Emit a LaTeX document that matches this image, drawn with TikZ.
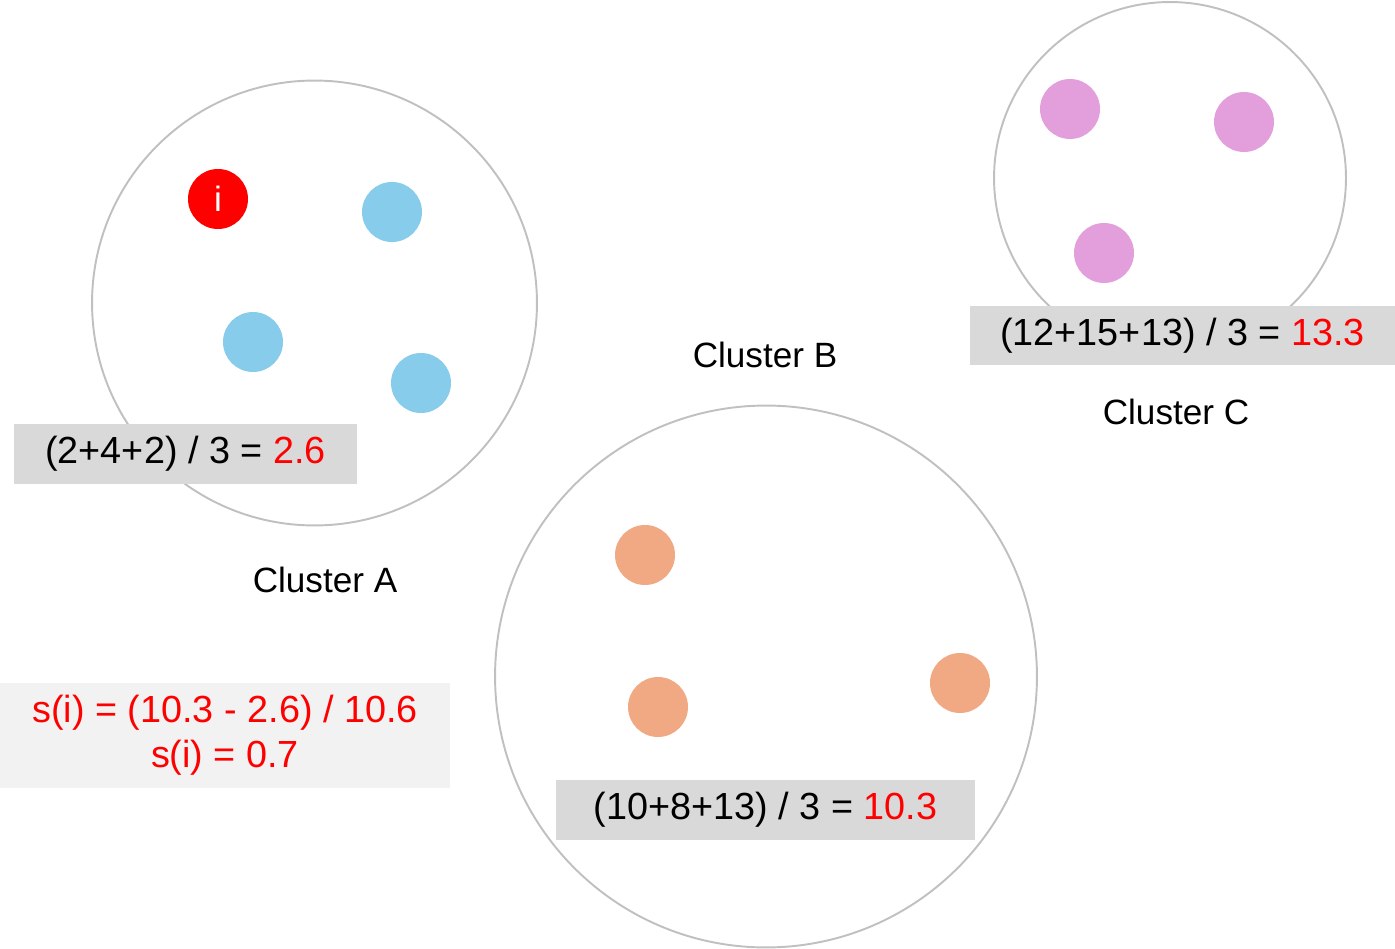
\documentclass[tikz,border=0pt]{standalone}
\usepackage{fontspec}
\setmainfont{Liberation Sans}
\usetikzlibrary{positioning}
\definecolor{ringgray}{HTML}{C0C0C0}
\definecolor{boxgray}{HTML}{D9D9D9}
\definecolor{lightbox}{HTML}{F2F2F2}
\definecolor{ptblue}{HTML}{87CCEB}
\definecolor{ptorange}{HTML}{F0A983}
\definecolor{ptpink}{HTML}{E39FDC}
\definecolor{pred}{HTML}{FF0000}

\begin{document}
\begin{tikzpicture}[
    x=0.02cm, y=-0.02cm,
    every node/.style={font=\fontsize{20}{24}\selectfont},
    cluster/.style={circle, draw=ringgray, line width=1.1pt, inner sep=0pt},
    pt/.style={circle, inner sep=0pt, minimum size=1.2cm},
    sumbox/.style={rectangle, fill=boxgray, inner sep=0pt, minimum height=1.2cm,
        font=\fontsize{21.5}{26}\selectfont},
    val/.style={text=pred}
]
\useasboundingbox (0,0) rectangle (1395,949);

% Clusters
\node (RingA) at (314.5,303) [cluster, minimum size=8.9cm] {};
\node (RingB) at (766,676.5) [cluster, minimum size=10.84cm] {};
\node (RingC) at (1170,178) [cluster, minimum size=7.04cm] {};

% Cluster A points
\node (I) at (218,199) [pt, fill=pred, text=white] {i};
\node (A1) at (392,212) [pt, fill=ptblue] {};
\node (A2) at (253,342) [pt, fill=ptblue] {};
\node (A3) at (421,383) [pt, fill=ptblue] {};

% Cluster B points
\node (B1) at (645,555) [pt, fill=ptorange] {};
\node (B2) at (658,707) [pt, fill=ptorange] {};
\node (B3) at (960,683) [pt, fill=ptorange] {};

% Cluster C points
\node (C1) at (1070,109) [pt, fill=ptpink] {};
\node (C2) at (1244,122) [pt, fill=ptpink] {};
\node (C3) at (1104,253) [pt, fill=ptpink] {};

% Mean distances
\node (SumA) at (185.5,454) [sumbox, minimum width=6.86cm] {(2+4+2) / 3 = {\color{pred}2.6}};
\node (SumB) at (765.5,809.5) [sumbox, minimum width=8.38cm] {(10+8+13) / 3 = {\color{pred}10.3}};
\node (SumC) at (1182.5,335.5) [sumbox, minimum width=8.5cm] {(12+15+13) / 3 = {\color{pred}13.3}};

% Labels
\node (LabA) at (325,580) {Cluster A};
\node (LabB) at (765,355) {Cluster B};
\node (LabC) at (1176,412) {Cluster C};

% Silhouette
\node (Sil) at (225,735.5) [rectangle, fill=lightbox, val, minimum width=9cm, minimum height=2.1cm,
    align=center, inner sep=0pt, font=\fontsize{21.5}{26}\selectfont]
    {s(i) = (10.3 - 2.6) / 10.6\\[-0.5pt] s(i) = 0.7};
\end{tikzpicture}
\end{document}
